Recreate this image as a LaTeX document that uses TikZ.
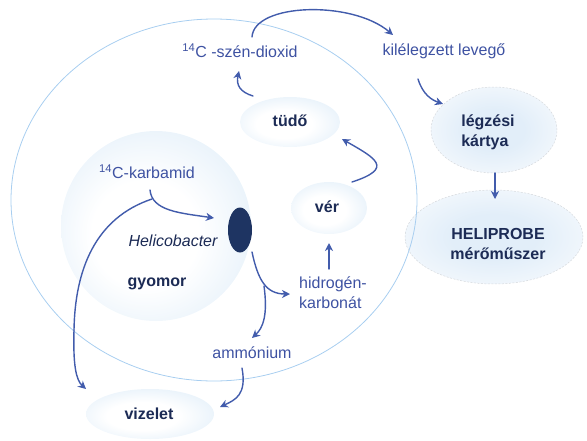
\documentclass[tikz,border=0pt]{standalone}
\usepackage{fontspec}
\setmainfont{Liberation Sans}
\usetikzlibrary{shapes.geometric,arrows.meta}
\definecolor{lbA}{RGB}{200,224,244}
\definecolor{lbB}{RGB}{226,238,249}
\definecolor{circ}{RGB}{168,206,240}
\definecolor{arr}{RGB}{66,92,172}
\definecolor{lbl}{RGB}{62,82,162}
\definecolor{navy}{RGB}{28,43,85}
\definecolor{bact}{RGB}{30,52,98}
\definecolor{dashg}{RGB}{214,217,221}
\pgfdeclareradialshading{blobshade}{\pgfpoint{-4bp}{-3bp}}{color(0bp)=(white); color(14bp)=(white); color(50bp)=(lbA)}
\pgfdeclareradialshading{glowshade}{\pgfpoint{0bp}{0bp}}{color(0bp)=(lbB); color(12bp)=(lbB); color(40bp)=(white); color(50bp)=(white)}
\tikzset{
  blob/.style={ellipse, shading=blobshade, inner sep=0pt},
  glow/.style={ellipse, shading=glowshade, draw=dashg, dash pattern=on 2pt off 1.5pt, line width=0.5pt, inner sep=0pt},
  lbltext/.style={text=lbl, inner sep=0pt},
  boldtext/.style={text=navy, font=\fontsize{16}{20}\selectfont\bfseries, inner sep=0pt},
  flow/.style={draw=arr, line width=1.4pt, line cap=round, -{Stealth[length=8pt,width=8pt,inset=2.5pt]}},
  flowplain/.style={draw=arr, line width=1.4pt, line cap=round}
}
\begin{document}
\begin{tikzpicture}[x=1pt,y=-1pt,font=\fontsize{16}{20}\selectfont]
\useasboundingbox (0,0) rectangle (587,440);
% outer dashed ellipses (right)
\node[glow, minimum width=126pt, minimum height=86pt] (kartya) at (494,130) {};
\node[glow, minimum width=178pt, minimum height=94pt] (heli) at (494,237) {};
% body outline
\node[draw=circ, line width=0.8pt, ellipse, minimum width=406pt, minimum height=362pt, inner sep=0pt] (body) at (214,200) {};
% organs
\node[blob, minimum size=190pt] (gyomor) at (156,226) {};
\node[blob, minimum width=100pt, minimum height=50pt] (tudo) at (290,122) {};
\node[blob, minimum width=76pt, minimum height=52pt] (ver) at (329,208) {};
\node[blob, minimum width=128pt, minimum height=50pt] (vizelet) at (150,414) {};
\node[ellipse, fill=bact, minimum width=24pt, minimum height=45pt, inner sep=0pt] (hp) at (240,230) {};
% texts
\node[boldtext] (tudotxt) at (290,121) {tüdő};
\node[boldtext] (vertxt) at (327,207) {vér};
\node[boldtext] (viztxt) at (149,414) {vizelet};
\node[boldtext] (gyotxt) at (157,284) {gyomor};
\node[boldtext, align=left] (kartyatxt) at (488,132) {légzési\\kártya};
\node[boldtext, align=center] (helitxt) at (498,244) {HELIPROBE\\mérőműszer};
\node[text=navy, inner sep=0pt, font=\fontsize{16}{20}\selectfont\itshape] (hptxt) at (173,241) {Helicobacter};
\node[lbltext] (co2) at (240,51) {\textsuperscript{14}C -szén-dioxid};
\node[lbltext] (kilel) at (444,51) {kilélegzett levegő};
\node[lbltext] (karb) at (147,172) {\textsuperscript{14}C-karbamid};
\node[lbltext, align=left] (hidro) at (333,293) {hidrogén-\\karbonát};
\node[lbltext] (ammon) at (252,353) {ammónium};
% connector coordinates
\coordinate (c1s) at (252,37);   \coordinate (c1e) at (393,35);
\coordinate (c2s) at (253,96);   \coordinate (c2e) at (239,71);
\coordinate (c3s) at (352,182);  \coordinate (c3e) at (342,139);
\coordinate (c4s) at (329,269);  \coordinate (c4e) at (329,243);
\coordinate (c5s) at (252,252);  \coordinate (c5e) at (290,294);
\coordinate (c5b) at (264,286);  \coordinate (c5f) at (252,338);
\coordinate (c6s) at (150,190);  \coordinate (c6e) at (214,218);
\coordinate (c6b) at (152,199);  \coordinate (c6m) at (74,330);  \coordinate (c6f) at (86,389);
\coordinate (c7s) at (242,368);  \coordinate (c7e) at (220,407);
\coordinate (c8s) at (418,79);   \coordinate (c8e) at (443,104);
\coordinate (c9s) at (495,173);  \coordinate (c9e) at (495,199);
% connectors
\draw[flow] (c1s) .. controls (254,3) and (352,0) .. (c1e);
\draw[flow] (c2s) .. controls (240,92) and (236,85) .. (c2e);
\draw[flow] (c3s) .. controls (395,168) and (375,158) .. (c3e);
\draw[flow] (c4s) -- (c4e);
\draw[flow] (c5s) .. controls (258,280) and (266,294) .. (c5e);
\draw[flow] (c5b) .. controls (268,315) and (263,328) .. (c5f);
\draw[flow] (c6s) .. controls (152,211) and (180,213) .. (c6e);
\draw[flowplain] (c6b) .. controls (95,218) and (75,270) .. (c6m);
\draw[flow] (c6m) .. controls (73,365) and (76,380) .. (c6f);
\draw[flow] (c7s) .. controls (247,395) and (235,400) .. (c7e);
\draw[flow] (c8s) .. controls (423,95) and (432,100) .. (c8e);
\draw[flow] (c9s) -- (c9e);
\end{tikzpicture}
\end{document}
